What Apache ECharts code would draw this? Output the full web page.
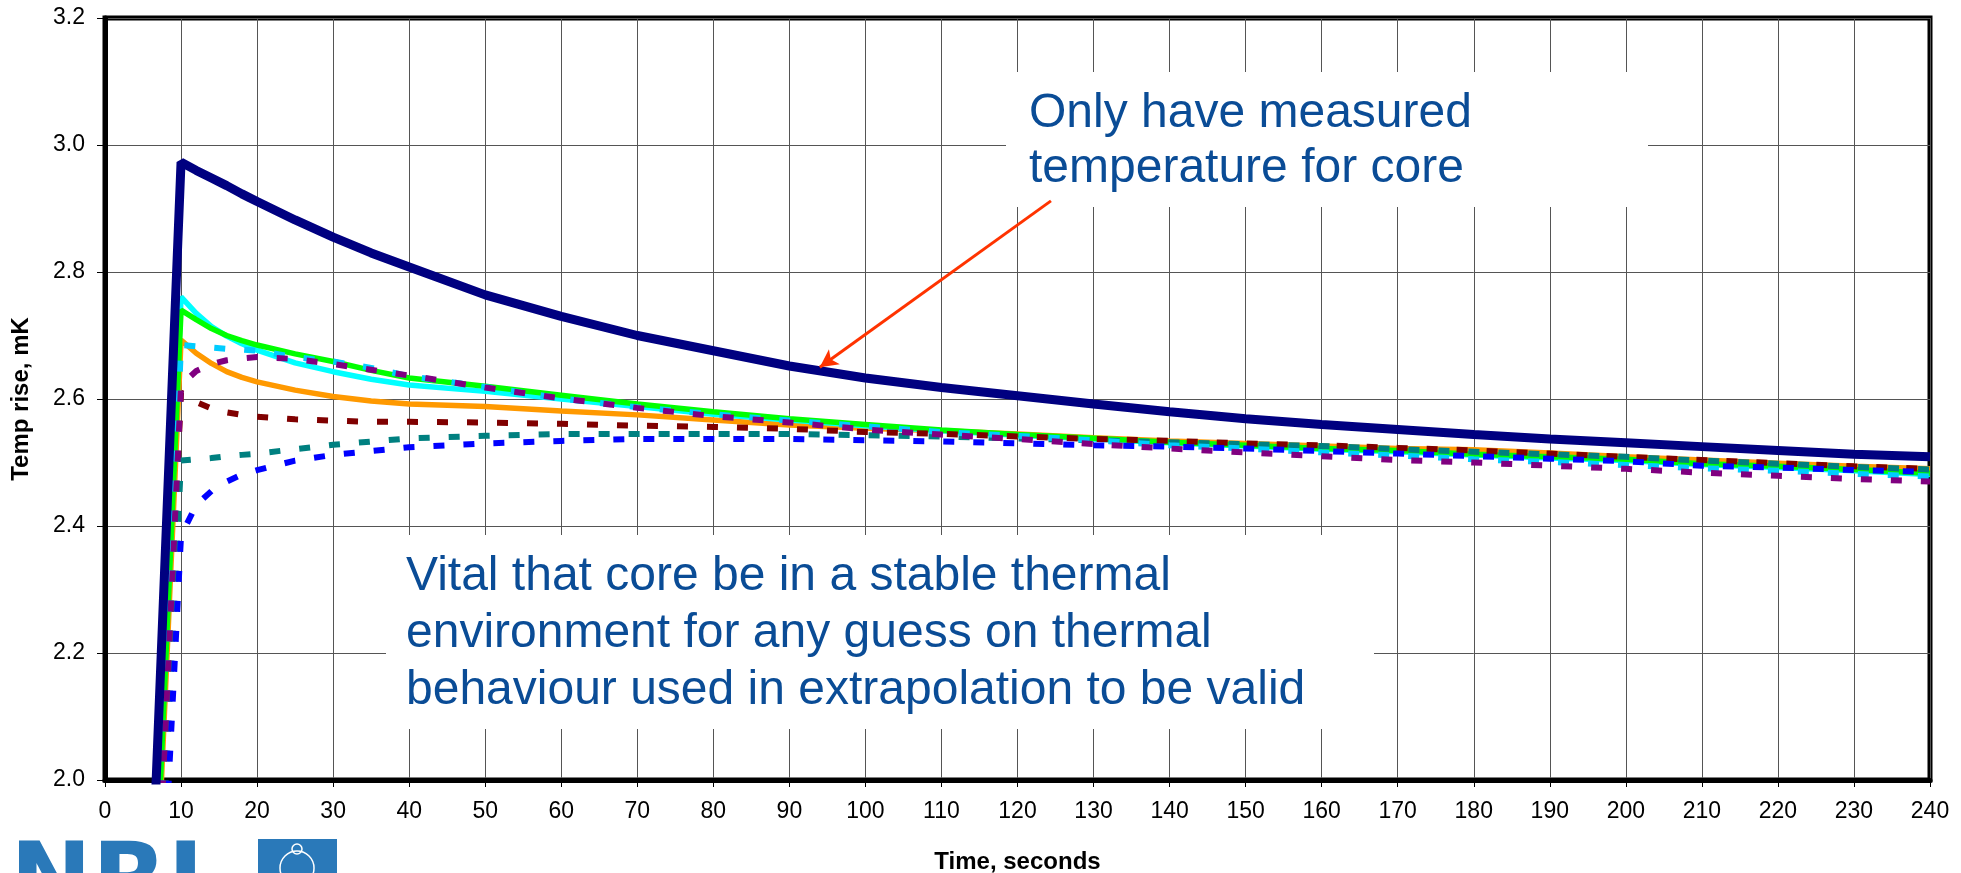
<!DOCTYPE html>
<html>
<head>
<meta charset="utf-8">
<script src="https://cdn.jsdelivr.net/npm/echarts@6/dist/echarts.min.js"></script>
<style>
  html, body { margin: 0; padding: 0; background: #ffffff; }
  #chart { width: 1961px; height: 873px; }
</style>
</head>
<body>
<div id="chart"></div>
<script>
// Sample times, seconds
const times = [0, 10, 12, 14, 16, 18, 20, 25, 30, 35, 40, 50, 60, 70, 80, 90, 100,
  110, 120, 130, 140, 150, 160, 170, 180, 190, 200, 210, 220, 230, 240];

// Temperature rise, mK — measured core
const coreMeasured = [0, 2.973, 2.960, 2.948, 2.936, 2.923, 2.911, 2.882, 2.855, 2.830, 2.808,
  2.764, 2.730, 2.700, 2.676, 2.652, 2.633, 2.618, 2.605, 2.592, 2.580, 2.569, 2.560,
  2.552, 2.544, 2.537, 2.531, 2.525, 2.519, 2.513, 2.509];

// Extrapolated models (solid)
const modelCyan = [0, 2.761, 2.735, 2.714, 2.699, 2.687, 2.677, 2.657, 2.643, 2.631, 2.622,
  2.612, 2.600, 2.588, 2.576, 2.567, 2.558, 2.550, 2.543, 2.537, 2.531, 2.526, 2.521,
  2.517, 2.512, 2.507, 2.503, 2.497, 2.492, 2.487, 2.481];
const modelGreen = [0, 2.740, 2.725, 2.711, 2.700, 2.692, 2.685, 2.671, 2.659, 2.645, 2.633,
  2.620, 2.606, 2.592, 2.580, 2.569, 2.560, 2.551, 2.544, 2.538, 2.532, 2.527, 2.522,
  2.519, 2.513, 2.509, 2.505, 2.498, 2.494, 2.489, 2.483];
const modelOrange = [0, 2.693, 2.672, 2.656, 2.643, 2.634, 2.627, 2.614, 2.604, 2.597, 2.592,
  2.588, 2.581, 2.575, 2.567, 2.559, 2.554, 2.550, 2.545, 2.539, 2.534, 2.530, 2.526,
  2.522, 2.520, 2.515, 2.509, 2.504, 2.499, 2.494, 2.490];

// Extrapolated models (dashed)
const modelSky = [0, 2.685, 2.683, 2.681, 2.679, 2.678, 2.676, 2.666, 2.659, 2.649, 2.636,
  2.619, 2.601, 2.587, 2.576, 2.566, 2.557, 2.548, 2.542, 2.535, 2.527, 2.522, 2.516,
  2.511, 2.505, 2.501, 2.496, 2.491, 2.487, 2.482, 2.478];
const modelPurple = [0, 2.622, 2.644, 2.655, 2.661, 2.664, 2.666, 2.663, 2.655, 2.646, 2.637,
  2.618, 2.601, 2.586, 2.573, 2.563, 2.552, 2.544, 2.537, 2.529, 2.522, 2.516, 2.510,
  2.504, 2.500, 2.495, 2.490, 2.484, 2.479, 2.474, 2.470];
const modelMaroon = [0, 2.610, 2.595, 2.585, 2.579, 2.575, 2.572, 2.568, 2.566, 2.564, 2.564,
  2.563, 2.561, 2.558, 2.556, 2.553, 2.548, 2.545, 2.541, 2.537, 2.534, 2.530, 2.527,
  2.523, 2.519, 2.514, 2.509, 2.504, 2.499, 2.494, 2.490];
const modelTeal = [0, 2.503, 2.505, 2.507, 2.510, 2.512, 2.514, 2.521, 2.528, 2.533, 2.538,
  2.542, 2.545, 2.545, 2.545, 2.545, 2.543, 2.541, 2.538, 2.535, 2.532, 2.529, 2.526,
  2.521, 2.517, 2.513, 2.509, 2.503, 2.498, 2.493, 2.489];
const modelBlue = [0, 2.385, 2.433, 2.455, 2.470, 2.481, 2.488, 2.503, 2.512, 2.518, 2.524,
  2.530, 2.534, 2.537, 2.537, 2.537, 2.535, 2.533, 2.530, 2.527, 2.525, 2.522, 2.518,
  2.514, 2.510, 2.506, 2.502, 2.495, 2.492, 2.488, 2.485];

// Arrow from the note to the core curve: [time, mK]
const arrowFrom = [124.4, 2.912];
const arrowTo = [94.0, 2.650];

const noteCore = 'Only have measured\ntemperature for core';
const noteStable = 'Vital that core be in a stable thermal\nenvironment for any guess on thermal\nbehaviour used in extrapolation to be valid';

const FONT = "'Liberation Sans', Arial, Helvetica, sans-serif";
const pairs = vals => times.map((t, i) => [t, vals[i]]);

function lineSeries(name, vals, color, width, dashed) {
  return {
    name: name,
    type: 'line',
    data: pairs(vals),
    showSymbol: false,
    symbol: 'none',
    smooth: false,
    clip: true,
    lineStyle: {
      color: color,
      width: width,
      type: dashed ? [11, 19] : 'solid',
      cap: 'butt'
    },
    z: 3
  };
}

const chart = echarts.init(document.getElementById('chart'), null, { renderer: 'canvas' });

const option = {
  animation: false,
  backgroundColor: '#ffffff',
  grid: {
    left: 105, top: 18, right: 31, bottom: 93,
    outerBoundsMode: 'none',
    containLabel: false,
    show: true, borderColor: '#000', borderWidth: 5, backgroundColor: 'transparent'
  },
  xAxis: {
    type: 'value',
    min: 0, max: 240, interval: 10,
    name: 'Time, seconds',
    nameLocation: 'middle',
    nameGap: 70,
    nameTextStyle: { fontFamily: FONT, fontWeight: 'bold', fontSize: 24, color: '#000' },
    axisLine: { show: true, lineStyle: { color: '#000', width: 5 } },
    axisTick: { show: true, inside: false, length: 7, lineStyle: { color: '#000', width: 1 } },
    axisLabel: { fontFamily: FONT, fontSize: 23, color: '#000', margin: 20 },
    splitLine: { show: true, lineStyle: { color: '#555555', width: 1 } }
  },
  yAxis: {
    type: 'value',
    min: 2.0, max: 3.2, interval: 0.2,
    name: 'Temp rise, mK',
    nameLocation: 'middle',
    nameGap: 72,
    nameTextStyle: { fontFamily: FONT, fontWeight: 'bold', fontSize: 24, color: '#000' },
    axisLine: { show: true, lineStyle: { color: '#000', width: 5 } },
    axisTick: { show: true, inside: false, length: 8, lineStyle: { color: '#000', width: 1 } },
    axisLabel: {
      fontFamily: FONT, fontSize: 23, color: '#000', margin: 20,
      formatter: v => v.toFixed(1)
    },
    splitLine: { show: true, lineStyle: { color: '#555555', width: 1 } }
  },
  series: [
    lineSeries('Orange', modelOrange, '#ff9900', 5.5, false),
    lineSeries('Cyan', modelCyan, '#00ffff', 5.5, false),
    lineSeries('Green', modelGreen, '#00ff00', 5.5, false),
    lineSeries('Maroon', modelMaroon, '#800000', 6, true),
    lineSeries('Teal', modelTeal, '#008080', 6, true),
    lineSeries('Blue', modelBlue, '#0000ff', 6, true),
    lineSeries('Sky', modelSky, '#00ccff', 6, true),
    lineSeries('Purple', modelPurple, '#800080', 6, true),
    Object.assign(lineSeries('Core', coreMeasured, '#000080', 9, false), {
      z: 4,
      markLine: {
        silent: true,
        symbol: ['none', 'arrow'],
        symbolSize: [14, 18],
        label: { show: false },
        lineStyle: { color: '#ff3300', width: 3, type: 'solid' },
        data: [[{ coord: arrowFrom }, { coord: arrowTo }]]
      }
    })
  ],
  graphic: [
    // note boxes over the grid lines
    { type: 'rect', shape: { x: 1006, y: 72, width: 642, height: 135 }, style: { fill: '#ffffff' }, z: 1 },
    { type: 'text', x: 1029, y: 86, z: 11,
      style: { text: noteCore, font: '48px ' + FONT, fill: '#0a4c96', lineHeight: 55, textVerticalAlign: 'top' } },
    { type: 'rect', shape: { x: 386, y: 535, width: 988, height: 194 }, style: { fill: '#ffffff' }, z: 1 },
    { type: 'text', x: 406, y: 548, z: 11,
      style: { text: noteStable, font: '48px ' + FONT, fill: '#0a4c96', lineHeight: 57, textVerticalAlign: 'top' } },
    // NRL logo, bottom left
    { type: 'text', x: 10, y: 838, z: 10,
      style: { text: 'NRL', font: "bold 98px 'DejaVu Sans', sans-serif", fill: '#2a79b9', textVerticalAlign: 'top' } },
    { type: 'rect', shape: { x: 258, y: 839, width: 79, height: 40 }, style: { fill: '#2a79b9' }, z: 10 },
    { type: 'circle', shape: { cx: 297, cy: 868, r: 17 }, style: { fill: 'none', stroke: '#ffffff', lineWidth: 1.5 }, z: 11 },
    { type: 'circle', shape: { cx: 297, cy: 849, r: 5 }, style: { fill: 'none', stroke: '#ffffff', lineWidth: 1.5 }, z: 11 }
  ]
};

chart.setOption(option);
</script>
</body>
</html>
